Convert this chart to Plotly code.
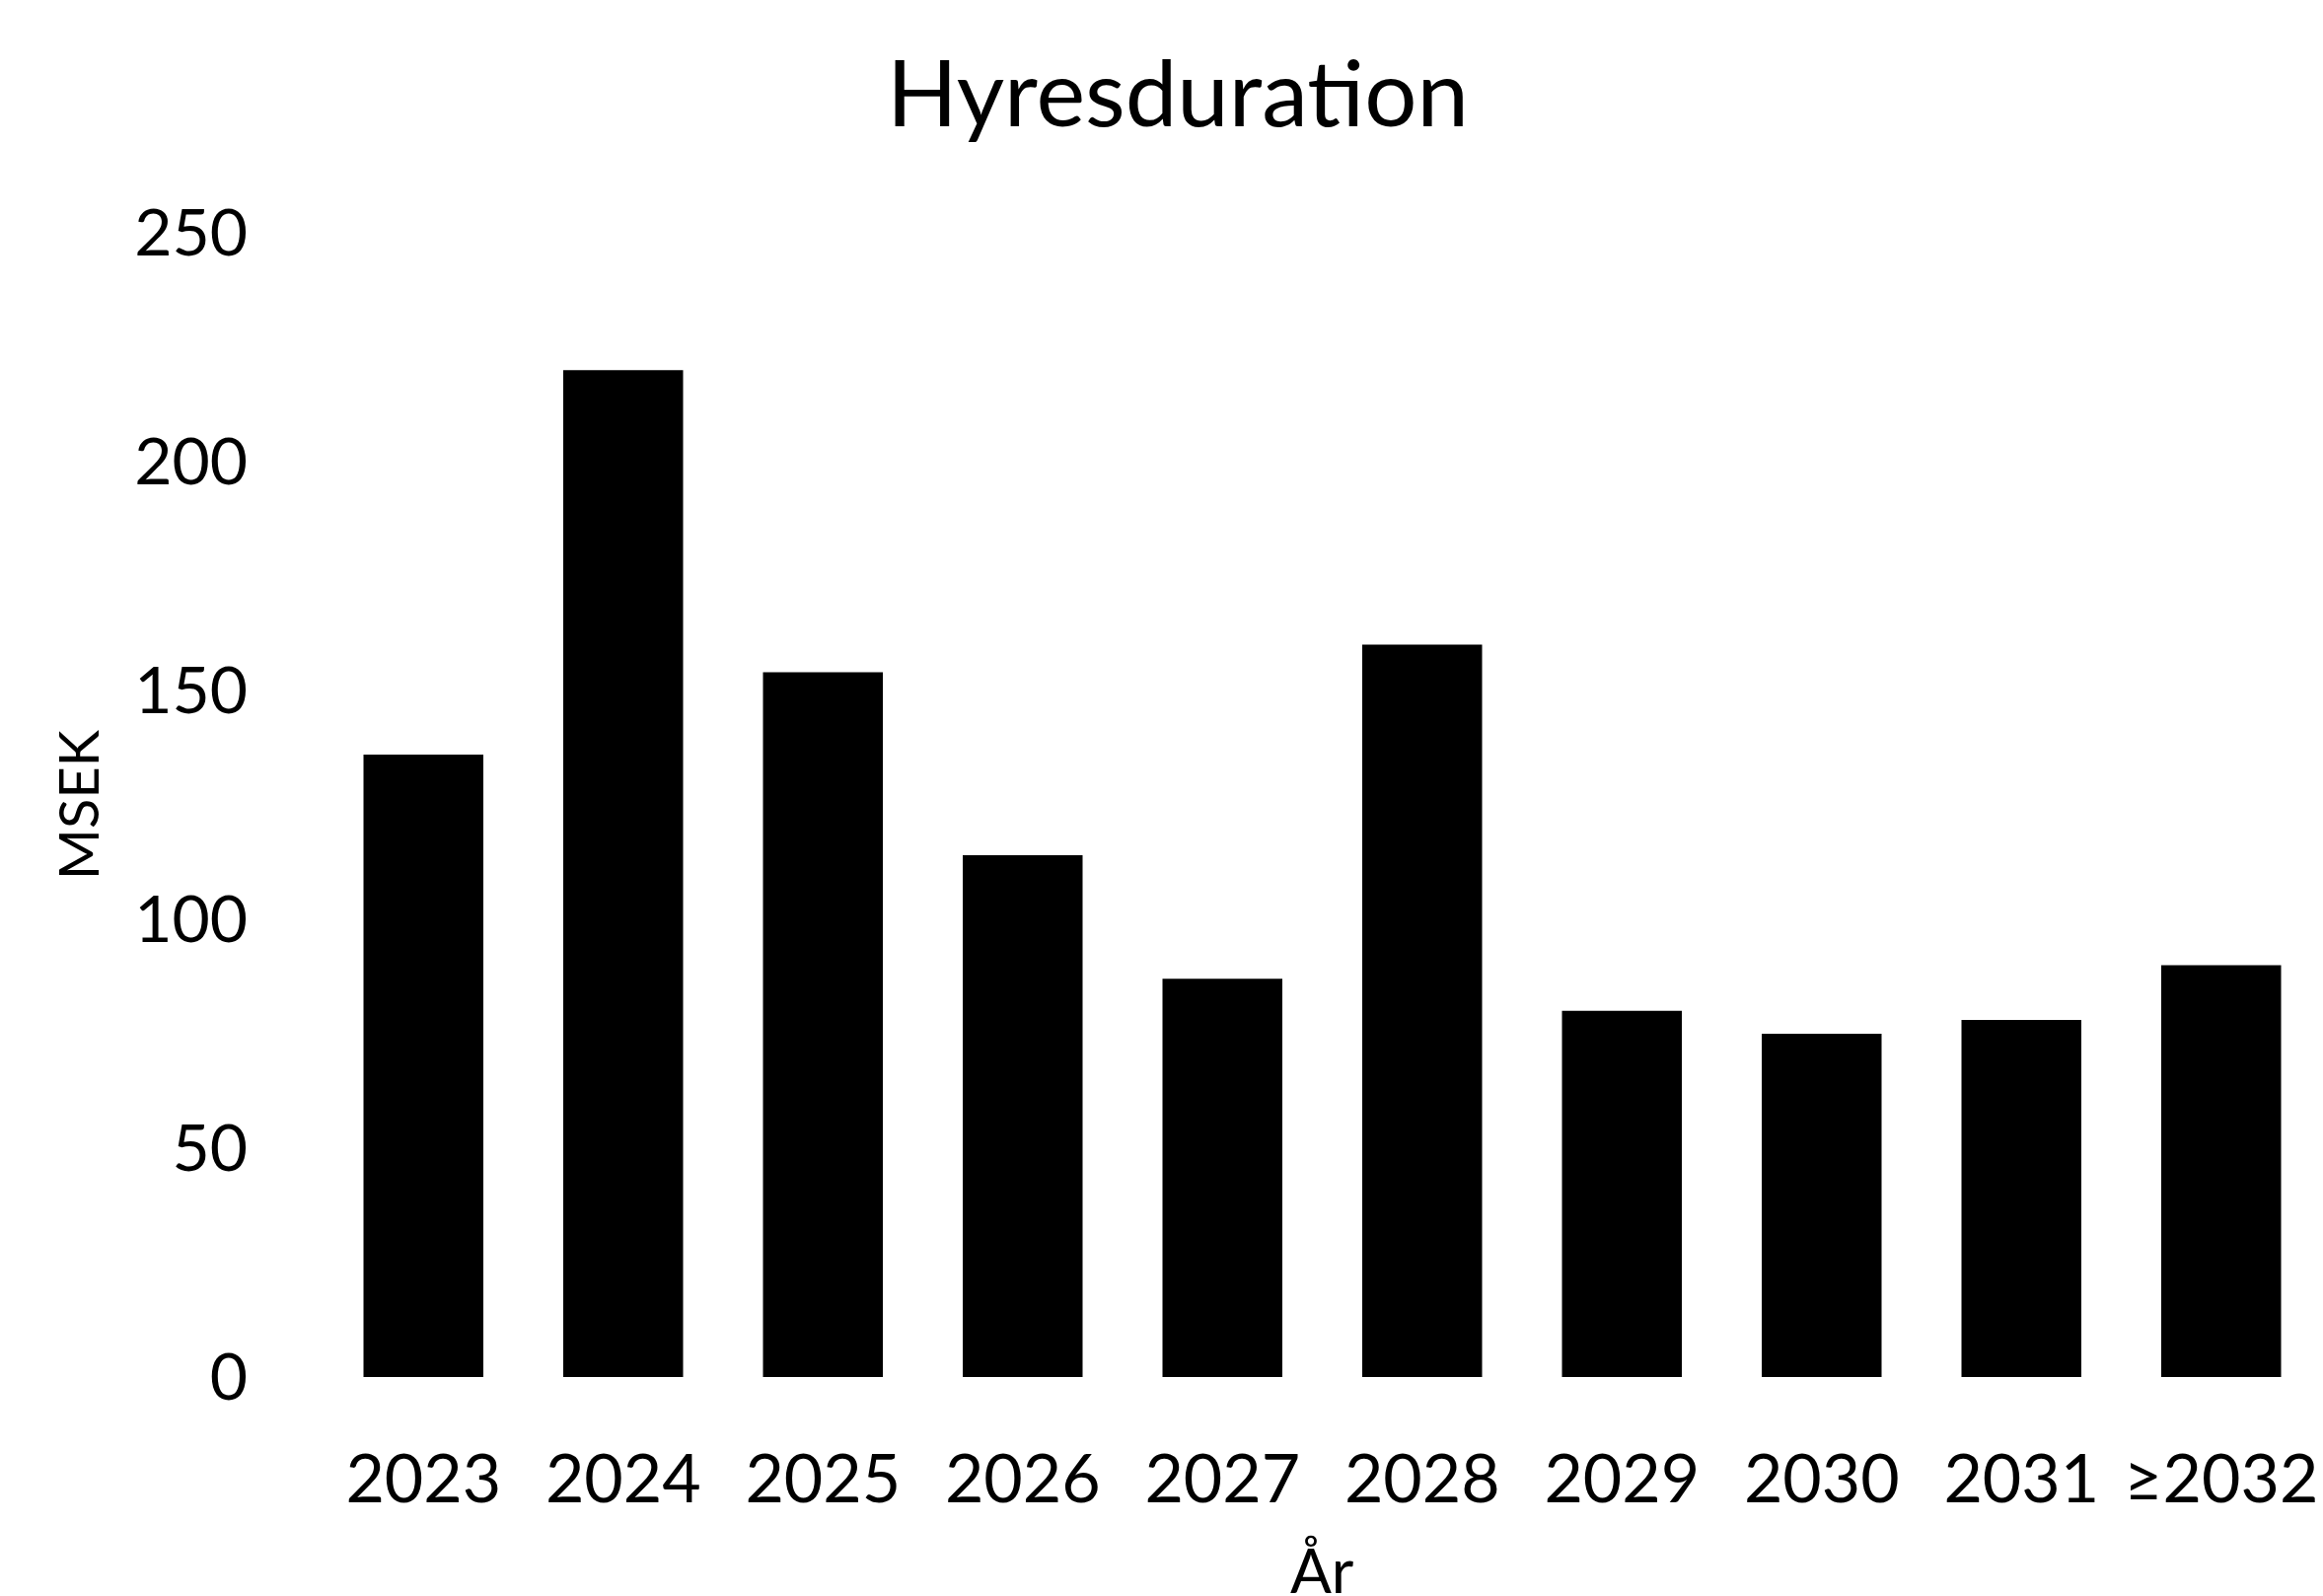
import plotly.graph_objects as go

# Lease expiry profile, MSEK per year
years = ["2023", "2024", "2025", "2026", "2027", "2028", "2029", "2030", "2031", "≥2032"]
msek = [136, 220, 154, 114, 87, 160, 80, 75, 78, 90]

title_text = "Hyresduration"
x_title = "År"
y_title = "MSEK"
y_ticks = [0, 50, 100, 150, 200, 250]

W, H = 2355, 1618
FONT = "Lato, Carlito, 'Open Sans', sans-serif"
M_TOP, M_BOTTOM = 236, 222
plot_h = H - M_TOP - M_BOTTOM

fig = go.Figure(
    go.Bar(
        x=years,
        y=msek,
        marker=dict(color="#000000", line=dict(width=0)),
    )
)

fig.update_layout(
    width=W,
    height=H,
    paper_bgcolor="white",
    plot_bgcolor="white",
    margin=dict(l=328, r=2, t=M_TOP, b=M_BOTTOM),
    bargap=0.4,
    showlegend=False,
    font=dict(family=FONT, color="#000000"),
    title=dict(
        text=title_text,
        font=dict(family=FONT, size=94, color="#000000"),
        x=0.507,
        xref="container",
        xanchor="center",
        y=1 - 95 / H,
        yref="container",
        yanchor="middle",
    ),
)

fig.update_xaxes(
    type="category",
    automargin=False,
    showgrid=False,
    showline=False,
    zeroline=False,
    ticks="",
    ticklabelstandoff=58,
    tickfont=dict(family=FONT, size=68, color="#000000"),
)

# x-axis title sits low, running off the bottom edge of the page
fig.add_annotation(
    text=x_title,
    xref="paper",
    yref="paper",
    x=0.5,
    y=-(1552 - (H - M_BOTTOM)) / plot_h,
    xanchor="center",
    yanchor="top",
    showarrow=False,
    font=dict(family=FONT, size=62, color="#000000"),
)

fig.update_yaxes(
    range=[0, 250],
    tickvals=y_ticks,
    automargin=False,
    showgrid=False,
    showline=False,
    zeroline=False,
    ticks="",
    ticklabelstandoff=76,
    tickfont=dict(family=FONT, size=66, color="#000000"),
    title=dict(text=y_title, font=dict(family=FONT, size=56, color="#000000"), standoff=17),
)

fig.write_html("out.html")
